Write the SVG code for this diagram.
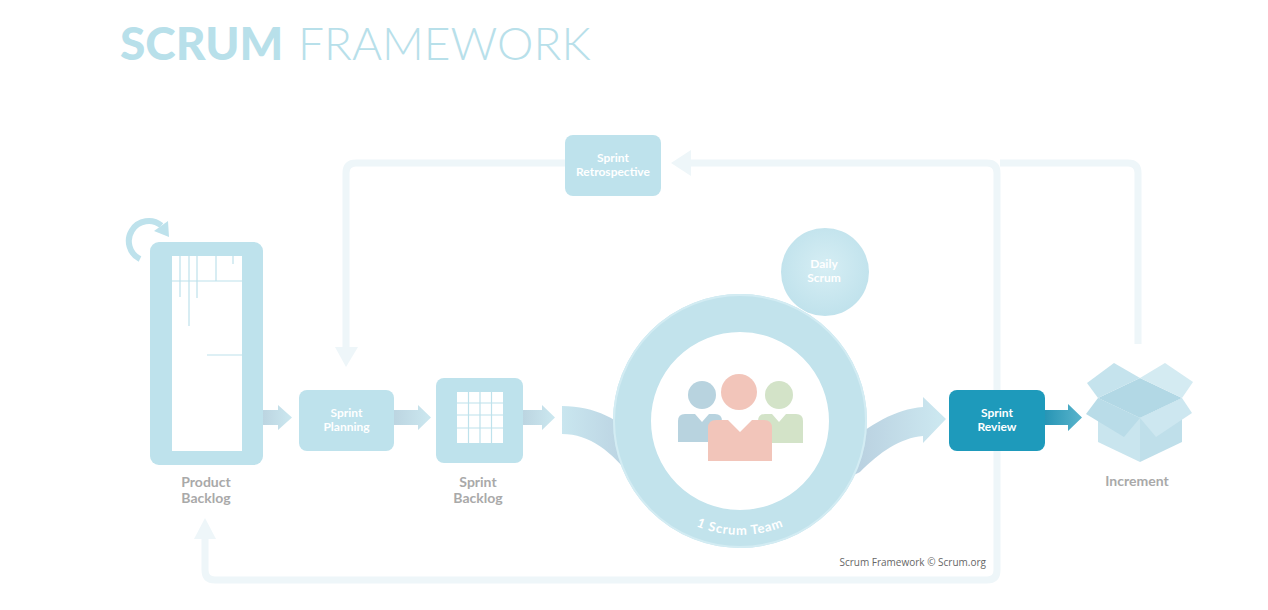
<svg xmlns="http://www.w3.org/2000/svg" width="1268" height="610" viewBox="0 0 1268 610">
<defs>
<style>
.box{fill:#bee2ec}
.lbl{font-family:Lato,"Open Sans","DejaVu Sans",sans-serif;font-weight:700;font-size:12px;fill:#ffffff;text-anchor:middle}
.glbl{font-family:Lato,"Open Sans","DejaVu Sans",sans-serif;font-weight:700;font-size:14px;fill:#a9a9a9;text-anchor:middle}
.loop{fill:none;stroke:#eef6f9;stroke-width:7;stroke-linejoin:round}
.loophead{fill:#eef6f9}
.grid{stroke:#bee2ec;stroke-width:1.2;fill:none}
</style>
<linearGradient id="arrG" x1="0" y1="0" x2="1" y2="0">
<stop offset="0" stop-color="#bcd5e1"/>
<stop offset="1" stop-color="#cce8f0"/>
</linearGradient>
<linearGradient id="arrDark" x1="0" y1="0" x2="1" y2="0">
<stop offset="0" stop-color="#2795b5"/>
<stop offset="1" stop-color="#5ab4cc"/>
</linearGradient>
<linearGradient id="bandL" gradientUnits="userSpaceOnUse" x1="562" y1="0" x2="640" y2="0">
<stop offset="0" stop-color="#c9e6ef"/>
<stop offset="1" stop-color="#b8cfdf"/>
</linearGradient>
<linearGradient id="bandR" gradientUnits="userSpaceOnUse" x1="850" y1="0" x2="946" y2="0">
<stop offset="0" stop-color="#b8cfdf"/>
<stop offset="1" stop-color="#cde9f1"/>
</linearGradient>
<radialGradient id="dailyG" cx="0.5" cy="0.45" r="0.55">
<stop offset="0" stop-color="#d6eef4"/>
<stop offset="1" stop-color="#c0e2ec"/>
</radialGradient>
<path id="teamArc" d="M641.3,478 A114,114 0 0 0 838.7,478"/>
</defs>

<rect width="1268" height="610" fill="#ffffff"/>

<g id="title">
<text x="120" y="60" font-family="Lato,'Open Sans',sans-serif" font-weight="900" font-size="46" fill="#b8e0ea">SCRUM</text>
<text x="298" y="60" font-family="Lato,'Open Sans',sans-serif" font-weight="300" font-size="46" fill="#b8e0ea">FRAMEWORK</text>
</g>

<g id="connectors">
<path class="loop" d="M565,163 H356 Q346,163 346,173 V348"/>
<polygon class="loophead" points="335,347 358,347 346,367"/>
<path class="loop" d="M997,390 V173 Q997,163 987,163 H690"/>
<polygon class="loophead" points="691,150 691,176 671,163"/>
<path class="loop" d="M997,451 V570 Q997,580 987,580 H215 Q205,580 205,570 V538"/>
<polygon class="loophead" points="194,539 216,539 205,518"/>
<path class="loop" d="M1138,344 V173 Q1138,163 1128,163 H1000"/>
<path d="M263,410 H278 V405 L292,417.5 L278,430 V425 H263 Z" fill="url(#arrG)"/>
<path d="M394,410 H418 V405 L431,417.5 L418,430 V425 H394 Z" fill="url(#arrG)"/>
<path d="M523,410 H542 V405 L555,417.5 L542,430 V425 H523 Z" fill="url(#arrG)"/>
<path d="M640,440 C620,420 595,406 562,406 L562,434 C590,434 612,452 632,478 L642,484 Z" fill="url(#bandL)"/>
<path d="M845,445 C870,425 895,409 923,407 L923,397 L946,419 L923,443 L923,436 C900,438 880,452 860,472 L848,478 Z" fill="url(#bandR)"/>
<path d="M1045,410 H1068 V404 L1082,417.5 L1068,431 V425 H1045 Z" fill="url(#arrDark)"/>
</g>

<g id="product-backlog">
<path d="M140,259 A20,20 0 1 1 161.4,225.5" fill="none" stroke="#bee2ec" stroke-width="6"/>
<polygon points="168,221 154,231 169,237" fill="#bee2ec"/>
<rect class="box" x="150" y="242" width="113" height="223" rx="9"/>
<rect x="172" y="256" width="70" height="195" fill="#ffffff"/>
<path class="grid" d="M172,281 H242 M180,256 V297 M189,256 V326 M197,256 V298 M216,256 V281 M233,256 V264 M207,355 H242"/>
<text class="glbl" x="206" y="487">Product</text>
<text class="glbl" x="206" y="503">Backlog</text>
</g>

<g id="sprint-planning">
<rect class="box" x="299" y="390" width="95" height="61" rx="8"/>
<text class="lbl" x="346.5" y="417">Sprint</text>
<text class="lbl" x="346.5" y="431">Planning</text>
</g>

<g id="sprint-backlog">
<rect class="box" x="436" y="378" width="87" height="85" rx="8"/>
<rect x="457" y="392" width="46" height="51" fill="#ffffff"/>
<path class="grid" d="M468.5,392 V443 M480,392 V443 M491.5,392 V443 M457,403 H503 M457,415 H503 M457,428 H503"/>
<text class="glbl" x="478" y="487">Sprint</text>
<text class="glbl" x="478" y="503">Backlog</text>
</g>

<g id="sprint-retrospective">
<rect class="box" x="565" y="135" width="96" height="61" rx="8"/>
<text class="lbl" x="613" y="162" font-size="11">Sprint</text>
<text class="lbl" x="613" y="176" font-size="11">Retrospective</text>
</g>

<g id="scrum-team">
<circle cx="740" cy="421" r="108" fill="#ffffff" stroke="#c2e3ec" stroke-width="38"/>
<circle cx="740" cy="421" r="126" fill="none" stroke="#d3ecf3" stroke-width="2"/>
<circle cx="702" cy="395" r="14" fill="#b8d3df"/>
<path d="M678,421 Q678,414 685,414 L695,414 L702,422 L709,414 L715,414 Q722,414 722,421 V442 H678 Z" fill="#b8d3df"/>
<circle cx="779" cy="395" r="14" fill="#d3e3c8"/>
<path d="M758,421 Q758,414 765,414 L772,414 L779,422 L786,414 L796,414 Q803,414 803,421 V443 H758 Z" fill="#d3e3c8"/>
<circle cx="739" cy="392" r="18" fill="#f2c5ba"/>
<path d="M708,428 Q708,420 716,420 L728,420 L740,432 L752,420 L764,420 Q772,420 772,428 V461 H708 Z" fill="#f2c5ba"/>
<text font-family="Lato,'Open Sans',sans-serif" font-weight="700" font-size="13" fill="#ffffff" letter-spacing="0.8"><textPath href="#teamArc" startOffset="50%" text-anchor="middle">1 Scrum Team</textPath></text>
</g>

<g id="daily-scrum">
<circle cx="825" cy="272" r="44" fill="url(#dailyG)"/>
<text class="lbl" x="824" y="268" font-size="11">Daily</text>
<text class="lbl" x="824" y="282" font-size="11">Scrum</text>
</g>

<g id="sprint-review">
<rect x="949" y="390" width="96" height="61" rx="8" fill="#1e9abb"/>
<text class="lbl" x="997" y="417">Sprint</text>
<text class="lbl" x="997" y="431">Review</text>
</g>

<g id="increment">
<polygon points="1098,398 1140,378 1182,398 1140,418" fill="#b2d8e5"/>
<polygon points="1098,398 1140,418 1140,462 1098,442" fill="#c9e5ee"/>
<polygon points="1140,418 1182,398 1182,442 1140,462" fill="#bfdfea"/>
<polygon points="1087,383 1114,363 1140,378 1098,398" fill="#c5e3ed"/>
<polygon points="1140,378 1165,363 1193,382 1182,398" fill="#d4ebf2"/>
<polygon points="1098,398 1140,418 1124,437 1086,414" fill="#b9dce8"/>
<polygon points="1140,418 1182,398 1192,413 1156,437" fill="#cde7f0"/>
<text class="glbl" x="1137" y="486">Increment</text>
</g>

<g id="credit">
<text x="986" y="566" font-family="'Open Sans','DejaVu Sans',sans-serif" font-size="10" fill="#666666" text-anchor="end">Scrum Framework © Scrum.org</text>
</g>
</svg>
